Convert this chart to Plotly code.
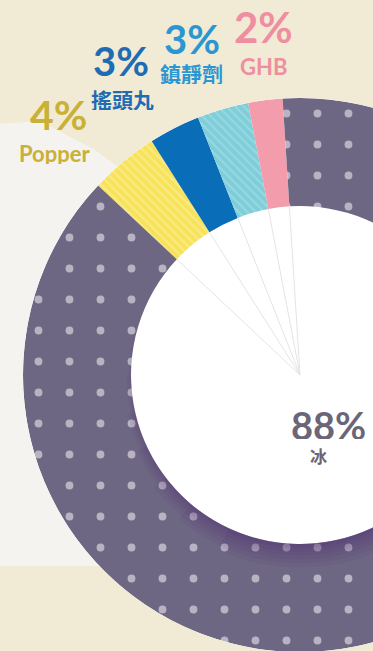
import plotly.graph_objects as go

# ---- data ----
categories = ["Popper", "搖頭丸", "鎮靜劑", "GHB", "冰"]
values = [4, 3, 3, 2, 88]
pct_labels = ["4%", "3%", "3%", "2%", "88%"]

# ---- styling ----
W, H = 600, 660
CX, CY, R = 300, 375, 277          # pie centre / radius in page pixels
HOLE = 0.61
START_DEG = -46.8                  # clockwise from 12 o'clock

slice_colors = ["#f7e25c", "#0a6db8", "#7ecdd8", "#f29cac", "#6e6783"]
pattern_shapes = ["\\", "", "\\", "", "."]
pattern_fg = ["#fdf2a4", "#0a6db8", "#b0e4eb", "#f29cac", "#ffffff"]
pattern_size = [6, 8, 6, 8, 31]
pattern_solid = [0.35, 0.3, 0.35, 0.3, 0.05]
text_colors = ["#c9b036", "#1f6cb3", "#2a97d3", "#ef8ea0", "#6b6577"]
leader_colors = ["#c9bf8a", "#7f9fb8", "#8fb8c4", "#b9a7a5"]

# angles from data
theta_mid, widths, bounds = [], [], []
cum = 0
for v in values:
    widths.append(v * 3.6)
    theta_mid.append(START_DEG + (cum + v / 2) * 3.6)
    bounds.append(START_DEG + cum * 3.6)
    cum += v

def px(x, y):
    return x / W, 1 - y / H

fig = go.Figure()

# hole divider lines (slice boundaries continued to centre)
for b in bounds:
    fig.add_trace(go.Scatterpolar(
        r=[0, HOLE], theta=[b, b], mode="lines",
        line=dict(color="#e4e4e4", width=1), hoverinfo="skip", showlegend=False))

# donut slices (one trace each so each has its own pattern)
for i in range(len(values)):
    pat = dict(shape=pattern_shapes[i], fgcolor=pattern_fg[i], bgcolor=slice_colors[i],
               size=pattern_size[i], solidity=pattern_solid[i], fillmode="overlay")
    fig.add_trace(go.Barpolar(
        r=[1 - HOLE], base=[HOLE], theta=[theta_mid[i]], width=[widths[i]],
        marker=dict(color=slice_colors[i], line=dict(width=0), pattern=pat),
        text=[f"{categories[i]} {pct_labels[i]}"], hoverinfo="text", showlegend=False))

# soft inner shadow on the lower inner edge of the ring
for depth, span in [(0.085, 60), (0.07, 90), (0.055, 115), (0.04, 140),
                    (0.028, 165), (0.016, 190), (0.008, 215)]:
    fig.add_trace(go.Barpolar(
        r=[depth], base=[HOLE], theta=[175], width=[span],
        marker=dict(color="rgba(75,35,110,0.08)", line=dict(width=0)),
        hoverinfo="skip", showlegend=False))

# leader lines for the small slices
for i in range(4):
    fig.add_trace(go.Scatterpolar(
        r=[1.0, 1.10], theta=[theta_mid[i], theta_mid[i] + 1.5], mode="lines",
        line=dict(color=leader_colors[i], width=1), cliponaxis=False,
        hoverinfo="skip", showlegend=False))

x0, y0 = px(CX - R, CY + R)
x1, y1 = px(CX + R, CY - R)
fig.update_layout(
    width=W, height=H, margin=dict(l=0, r=0, t=0, b=0),
    paper_bgcolor="#f1ead4", plot_bgcolor="#f1ead4",
    polar=dict(
        domain=dict(x=[x0, x1], y=[y0, y1]),
        bgcolor="#ffffff", barmode="overlay",
        angularaxis=dict(direction="clockwise", rotation=90, visible=False,
                         showgrid=False, showline=False),
        radialaxis=dict(range=[0, 1], visible=False, showgrid=False),
    ),
)

# light background panel behind the ring
pts = [(-5, 124), (40, 121), (95, 150), (300, 300), (300, 566), (-5, 566)]
path = "M " + " L ".join(f"{px(a, b)[0]},{px(a, b)[1]}" for a, b in pts) + " Z"
fig.add_shape(type="path", xref="paper", yref="paper", path=path,
              fillcolor="#f4f3f0", line=dict(width=0), layer="below")

# labels: (pct position, name position, pct size, name size)
label_pos = [
    ((58, 114), (55, 153), 41, 22),
    ((121, 60), (122, 99), 40, 21),
    ((192, 38), (191, 73), 40, 21),
    ((263, 27), (263, 66), 42, 22),
    ((328, 424), (318, 456), 38, 17),
]
for i, ((pp, npos, ps, ns)) in enumerate(label_pos):
    ax, ay = px(*pp)
    fig.add_annotation(x=ax, y=ay, xref="paper", yref="paper", text=pct_labels[i],
                       showarrow=False, xanchor="center", yanchor="middle",
                       height=int(ps * 0.78), valign="middle", borderpad=0,
                       font=dict(family="Lato", size=ps, color=text_colors[i], weight="bold"))
    bx, by = px(*npos)
    fig.add_annotation(x=bx, y=by, xref="paper", yref="paper", text=categories[i],
                       showarrow=False, xanchor="center", yanchor="middle",
                       height=int(ns * 1.0), valign="middle", borderpad=0,
                       font=dict(family="Lato, Noto Sans CJK TC", size=ns,
                                 color=text_colors[i], weight="bold"))

fig.write_html("out.html", post_script=(
    "document.documentElement.style.overflow='hidden';"
    "document.body.style.overflow='hidden';document.body.style.margin='0';"))
